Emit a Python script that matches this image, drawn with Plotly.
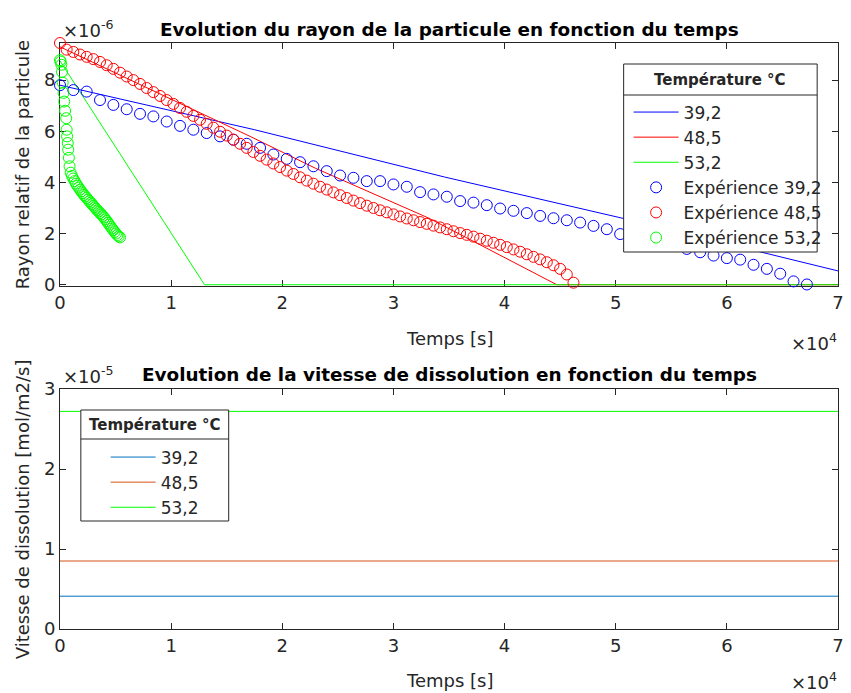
import plotly.graph_objects as go

# ---------------- data ----------------
# Top plot: particle radius (units of 1e-6) vs time (s)
model_blue_t = [0, 17500, 34600, 51000, 70000]
model_blue_r = [7.8, 6.06, 4.21, 2.56, 0.54]
model_red_t = [0, 17100, 23000, 33200, 44700, 70000]
model_red_r = [9.3, 5.8, 4.55, 2.6, 0.0, 0.0]
model_green_t = [0, 13000, 70000]
model_green_r = [8.75, 0.0, 0.0]

exp_blue_t = [i * 1200 for i in range(57)]
exp_blue_r = [7.8, 7.61, 7.55, 7.22, 7.03, 6.86, 6.68, 6.58, 6.38, 6.21,
              6.06, 5.93, 5.8, 5.67, 5.51, 5.35, 5.09, 4.92, 4.79, 4.63,
              4.44, 4.27, 4.18, 4.05, 4.05, 3.92, 3.83, 3.62, 3.53, 3.44,
              3.27, 3.21, 3.11, 2.98, 2.89, 2.80, 2.69, 2.60, 2.52, 2.43,
              2.30, 2.17, 1.98, 1.88, 1.76, 1.64, 1.52, 1.40, 1.27, 1.14,
              1.04, 0.98, 0.78, 0.62, 0.43, 0.13, 0.01]

exp_red_t = [i * 600 for i in range(78)]
exp_red_r = [9.45, 9.19, 9.10, 9.00, 8.91, 8.82, 8.71, 8.58, 8.44, 8.29,
             8.14, 8.00, 7.85, 7.69, 7.53, 7.38, 7.22, 7.07, 6.91, 6.76,
             6.60, 6.45, 6.29, 6.14, 5.98, 5.83, 5.67, 5.51, 5.35, 5.19,
             5.04, 4.89, 4.74, 4.60, 4.46, 4.33, 4.20, 4.07, 3.95, 3.83,
             3.72, 3.61, 3.50, 3.39, 3.29, 3.19, 3.09, 3.00, 2.91, 2.83,
             2.75, 2.67, 2.59, 2.52, 2.45, 2.38, 2.31, 2.24, 2.17, 2.09,
             2.02, 1.95, 1.88, 1.80, 1.72, 1.64, 1.56, 1.47, 1.38, 1.29,
             1.19, 1.09, 0.99, 0.88, 0.76, 0.62, 0.40, 0.08]

exp_green_t = [0, 60, 120, 180, 240, 320, 380, 460, 560, 600, 640, 700, 740,
               800, 860, 960, 1080, 1200, 1320, 1440, 1560, 1680, 1800, 1920,
               2040, 2160, 2280, 2400, 2520, 2640, 2760, 2880, 3000, 3120,
               3240, 3360, 3480, 3600, 3720, 3840, 3960, 4080, 4200, 4320,
               4440, 4560, 4680, 4800, 4920, 5040, 5160, 5280, 5400]
exp_green_r = [8.78, 8.72, 8.6, 8.32, 7.9, 7.5, 7.16, 6.8, 6.51, 6.06, 5.8,
               5.54, 5.28, 4.96, 4.63, 4.38, 4.25, 4.15, 4.05, 3.95, 3.87,
               3.8, 3.72, 3.65, 3.58, 3.51, 3.45, 3.39, 3.33, 3.27, 3.21,
               3.15, 3.09, 3.03, 2.97, 2.91, 2.86, 2.8, 2.75, 2.69, 2.63,
               2.56, 2.49, 2.42, 2.35, 2.27, 2.2, 2.13, 2.06, 2.0, 1.94,
               1.89, 1.85]

# Bottom plot: dissolution rate (units of 1e-5 mol/m2/s)
rate_t = [0, 70000]
rate_39 = [0.41, 0.41]
rate_48 = [0.85, 0.85]
rate_53 = [2.72, 2.72]

temp_labels = ["39,2", "48,5", "53,2"]
x_tickvals = [0, 10000, 20000, 30000, 40000, 50000, 60000, 70000]
x_ticktext = ["0", "1", "2", "3", "4", "5", "6", "7"]
top_tickvals = [0, 2, 4, 6, 8]
bot_tickvals = [0, 1, 2, 3]

# ---------------- layout helpers ----------------
W, H = 851, 693
L, R, T, B = 60, 844, 43, 629


def px(x):
    return (x - L) / (R - L)


def py(y):
    return (B - y) / (B - T)


FONT = "DejaVu Sans"
AX = "#262626"

fig = go.Figure()

# top: model lines
fig.add_trace(go.Scatter(x=model_blue_t, y=model_blue_r, mode="lines", name=temp_labels[0],
                         line=dict(color="#0000ff", width=1), xaxis="x", yaxis="y", legend="legend"))
fig.add_trace(go.Scatter(x=model_red_t, y=model_red_r, mode="lines", name=temp_labels[1],
                         line=dict(color="#ff0000", width=1), xaxis="x", yaxis="y", legend="legend"))
fig.add_trace(go.Scatter(x=model_green_t, y=model_green_r, mode="lines", name=temp_labels[2],
                         line=dict(color="#00ff00", width=1), xaxis="x", yaxis="y", legend="legend"))
# top: experiments
for t, r, c, lab in [(exp_blue_t, exp_blue_r, "#0000ff", temp_labels[0]),
                     (exp_red_t, exp_red_r, "#ff0000", temp_labels[1]),
                     (exp_green_t, exp_green_r, "#00ff00", temp_labels[2])]:
    fig.add_trace(go.Scatter(x=t, y=r, mode="markers", name="Expérience " + lab,
                             marker=dict(symbol="circle-open", size=11, color=c, line=dict(width=1, color=c)),
                             cliponaxis=False, xaxis="x", yaxis="y", legend="legend"))

# bottom
for r, c, lab in [(rate_39, "#0072BD", temp_labels[0]),
                  (rate_48, "#D95319", temp_labels[1]),
                  (rate_53, "#00ff00", temp_labels[2])]:
    fig.add_trace(go.Scatter(x=rate_t, y=r, mode="lines", name=lab,
                             line=dict(color=c, width=1), xaxis="x2", yaxis="y2", legend="legend2"))

axis_common = dict(showline=True, linecolor=AX, linewidth=1, mirror="ticks", ticks="inside",
                   ticklen=6, tickcolor=AX, tickwidth=1, showgrid=False, zeroline=False,
                   tickfont=dict(family=FONT, size=18, color=AX), layer="below traces")

fig.update_layout(
    width=W, height=H,
    margin=dict(l=L, r=W - R, t=T, b=H - B, pad=0),
    paper_bgcolor="white", plot_bgcolor="white",
    xaxis=dict(domain=[0, 1], anchor="y", range=[0, 70000], tickvals=x_tickvals, ticktext=x_ticktext,
               **axis_common),
    yaxis=dict(domain=[py(286), 1], anchor="x", range=[-0.05, 9.45], tickvals=top_tickvals, **axis_common),
    xaxis2=dict(domain=[0, 1], anchor="y2", range=[0, 70000], tickvals=x_tickvals, ticktext=x_ticktext,
                **axis_common),
    yaxis2=dict(domain=[0, py(389)], anchor="x2", range=[0, 3], tickvals=bot_tickvals, **axis_common),
    legend=dict(x=px(633), y=py(94.5), xanchor="left", yanchor="top", bgcolor="rgba(0,0,0,0)",
                borderwidth=0, font=dict(family=FONT, size=17, color=AX), itemwidth=45,
                tracegroupgap=0),
    legend2=dict(x=px(106), y=py(439.5), xanchor="left", yanchor="top", bgcolor="rgba(0,0,0,0)",
                 borderwidth=0, font=dict(family=FONT, size=17, color=AX), itemwidth=45,
                 tracegroupgap=0),
    showlegend=True,
)

shapes = []
# legend boxes + separators
for (x0, x1, y0, y1, ysep) in [(628, 823, 64, 252, 95), (81, 230, 410, 521, 439)]:
    shapes.append(dict(type="rect", xref="paper", yref="paper", x0=px(x0), x1=px(x1), y0=py(y1), y1=py(y0),
                       fillcolor="white", line=dict(color=AX, width=1), layer="above"))
    shapes.append(dict(type="line", xref="paper", yref="paper", x0=px(x0), x1=px(x1), y0=py(ysep), y1=py(ysep),
                       line=dict(color=AX, width=1), layer="above"))
fig.update_layout(shapes=shapes)

ann = []


def add_text(text, x, y, size=18, color=AX, bold=False, xanchor="center", yanchor="middle", angle=0):
    ann.append(dict(text=("<b>%s</b>" % text) if bold else text, x=px(x), y=py(y), xref="paper", yref="paper",
                    showarrow=False, xanchor=xanchor, yanchor=yanchor, textangle=angle,
                    font=dict(family=FONT, size=size, color=color)))


add_text("Evolution du rayon de la particule en fonction du temps", 452, 29, size=18.4, bold=True, color="black")
add_text("Evolution de la vitesse de dissolution en fonction du temps", 452, 374, size=18.4, bold=True,
         color="black")
add_text("Temps [s]", 453, 338)
add_text("Temps [s]", 453, 680)
add_text("Rayon relatif de la particule", 22, 165, angle=-90)
add_text("Vitesse de dissolution [mol/m2/s]", 22, 509, angle=-90)
add_text("×10<sup>-6</sup>", 61, 29, xanchor="left")
add_text("×10<sup>-5</sup>", 61, 375, xanchor="left")
add_text("×10<sup>4</sup>", 845, 342, xanchor="right")
add_text("×10<sup>4</sup>", 845, 681, xanchor="right")
add_text("Température °C", 725.5, 80, size=15, bold=True)
add_text("Température °C", 155.5, 425, size=15, bold=True)
fig.update_layout(annotations=ann)

fig.write_html("out.html", config={"displayModeBar": False},
               post_script="document.body.style.margin='0px';")
